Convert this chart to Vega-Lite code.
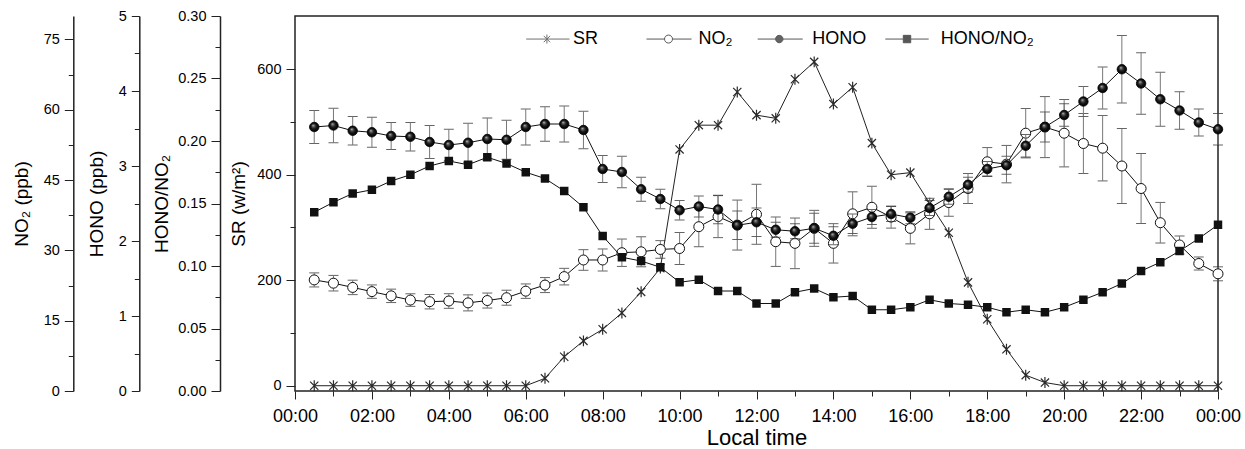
{
  "$schema": "https://vega.github.io/schema/vega-lite/v6.json",
  "width": 923,
  "height": 375,
  "autosize": {"type": "none"},
  "padding": {"left": 295, "top": 16, "right": 27, "bottom": 58},
  "background": "white",
  "config": {
    "font": "Liberation Sans",
    "view": {"stroke": "#222", "strokeWidth": 1.5},
    "axis": {
      "labelFont": "Liberation Sans", "titleFont": "Liberation Sans",
      "labelColor": "#000", "titleColor": "#000",
      "tickColor": "#222", "domainColor": "#222", "domainWidth": 1.5, "tickWidth": 1,
      "grid": false, "labelFontSize": 14.5, "titleFontSize": 19, "titleFontWeight": "normal",
      "labelFlush": false, "labelOverlap": false, "labelPadding": 5
    },
    "legend": {"labelFont": "Liberation Sans"}
  },
  "data": {"values": [
    {"t": 0.5, "SR": 0, "NO2": 23.7, "NO2e": 1.5, "HONO": 3.52, "HONOe": 0.22, "R": 0.143},
    {"t": 1, "SR": 0, "NO2": 23.0, "NO2e": 1.66, "HONO": 3.54, "HONOe": 0.23, "R": 0.151},
    {"t": 1.5, "SR": 0, "NO2": 22.1, "NO2e": 1.54, "HONO": 3.47, "HONOe": 0.19, "R": 0.158},
    {"t": 2, "SR": 0, "NO2": 21.2, "NO2e": 1.43, "HONO": 3.45, "HONOe": 0.20, "R": 0.161},
    {"t": 2.5, "SR": 0, "NO2": 20.3, "NO2e": 1.43, "HONO": 3.40, "HONOe": 0.18, "R": 0.168},
    {"t": 3, "SR": 0, "NO2": 19.4, "NO2e": 1.34, "HONO": 3.39, "HONOe": 0.19, "R": 0.173},
    {"t": 3.5, "SR": 0, "NO2": 19.05, "NO2e": 1.54, "HONO": 3.32, "HONOe": 0.22, "R": 0.180},
    {"t": 4, "SR": 0, "NO2": 19.2, "NO2e": 1.56, "HONO": 3.28, "HONOe": 0.21, "R": 0.184},
    {"t": 4.5, "SR": 0, "NO2": 18.8, "NO2e": 1.71, "HONO": 3.31, "HONOe": 0.26, "R": 0.181},
    {"t": 5, "SR": 0, "NO2": 19.3, "NO2e": 1.6, "HONO": 3.36, "HONOe": 0.28, "R": 0.187},
    {"t": 5.5, "SR": 0, "NO2": 19.9, "NO2e": 1.6, "HONO": 3.35, "HONOe": 0.26, "R": 0.182},
    {"t": 6, "SR": 0, "NO2": 21.3, "NO2e": 1.54, "HONO": 3.52, "HONOe": 0.24, "R": 0.175},
    {"t": 6.5, "SR": 14, "NO2": 22.6, "NO2e": 1.6, "HONO": 3.56, "HONOe": 0.23, "R": 0.170},
    {"t": 7, "SR": 55, "NO2": 24.4, "NO2e": 1.77, "HONO": 3.56, "HONOe": 0.24, "R": 0.160},
    {"t": 7.5, "SR": 85, "NO2": 27.95, "NO2e": 2.2, "HONO": 3.48, "HONOe": 0.25, "R": 0.147},
    {"t": 8, "SR": 107, "NO2": 27.95, "NO2e": 2.35, "HONO": 2.96, "HONOe": 0.18, "R": 0.124},
    {"t": 8.5, "SR": 138, "NO2": 29.5, "NO2e": 2.92, "HONO": 2.92, "HONOe": 0.21, "R": 0.107},
    {"t": 9, "SR": 178, "NO2": 29.7, "NO2e": 3.2, "HONO": 2.69, "HONOe": 0.16, "R": 0.104},
    {"t": 9.5, "SR": 223, "NO2": 30.2, "NO2e": 1.88, "HONO": 2.56, "HONOe": 0.13, "R": 0.099},
    {"t": 10, "SR": 448, "NO2": 30.4, "NO2e": 3.41, "HONO": 2.41, "HONOe": 0.13, "R": 0.087},
    {"t": 10.5, "SR": 494, "NO2": 35.05, "NO2e": 4.27, "HONO": 2.46, "HONOe": 0.14, "R": 0.089},
    {"t": 11, "SR": 494, "NO2": 37.2, "NO2e": 4.48, "HONO": 2.42, "HONOe": 0.19, "R": 0.080},
    {"t": 11.5, "SR": 557, "NO2": 35.4, "NO2e": 5.33, "HONO": 2.21, "HONOe": 0.19, "R": 0.080},
    {"t": 12, "SR": 513, "NO2": 37.7, "NO2e": 6.4, "HONO": 2.25, "HONOe": 0.19, "R": 0.070},
    {"t": 12.5, "SR": 507, "NO2": 31.85, "NO2e": 5.27, "HONO": 2.15, "HONOe": 0.10, "R": 0.070},
    {"t": 13, "SR": 581, "NO2": 31.5, "NO2e": 5.4, "HONO": 2.13, "HONOe": 0.10, "R": 0.079},
    {"t": 13.5, "SR": 614, "NO2": 34.7, "NO2e": 3.84, "HONO": 2.17, "HONOe": 0.20, "R": 0.082},
    {"t": 14, "SR": 534, "NO2": 31.5, "NO2e": 4.2, "HONO": 2.07, "HONOe": 0.12, "R": 0.075},
    {"t": 14.5, "SR": 566, "NO2": 37.8, "NO2e": 4.69, "HONO": 2.23, "HONOe": 0.13, "R": 0.076},
    {"t": 15, "SR": 460, "NO2": 39.2, "NO2e": 4.48, "HONO": 2.32, "HONOe": 0.10, "R": 0.065},
    {"t": 15.5, "SR": 400, "NO2": 37.1, "NO2e": 2.35, "HONO": 2.36, "HONOe": 0.10, "R": 0.065},
    {"t": 16, "SR": 404, "NO2": 34.7, "NO2e": 3.31, "HONO": 2.31, "HONOe": 0.08, "R": 0.067},
    {"t": 16.5, "SR": 346, "NO2": 37.8, "NO2e": 3.31, "HONO": 2.44, "HONOe": 0.10, "R": 0.073},
    {"t": 17, "SR": 290, "NO2": 40.2, "NO2e": 2.92, "HONO": 2.59, "HONOe": 0.10, "R": 0.070},
    {"t": 17.5, "SR": 196, "NO2": 43.2, "NO2e": 3.2, "HONO": 2.75, "HONOe": 0.10, "R": 0.069},
    {"t": 18, "SR": 126, "NO2": 48.9, "NO2e": 3.03, "HONO": 2.96, "HONOe": 0.10, "R": 0.067},
    {"t": 18.5, "SR": 69, "NO2": 48.4, "NO2e": 3.99, "HONO": 3.01, "HONOe": 0.12, "R": 0.063},
    {"t": 19, "SR": 20, "NO2": 55.0, "NO2e": 5.27, "HONO": 3.27, "HONOe": 0.15, "R": 0.065},
    {"t": 19.5, "SR": 6, "NO2": 56.3, "NO2e": 6.51, "HONO": 3.52, "HONOe": 0.20, "R": 0.063},
    {"t": 20, "SR": 0, "NO2": 55.0, "NO2e": 7.19, "HONO": 3.68, "HONOe": 0.15, "R": 0.067},
    {"t": 20.5, "SR": 0, "NO2": 52.8, "NO2e": 6.4, "HONO": 3.86, "HONOe": 0.20, "R": 0.073},
    {"t": 21, "SR": 0, "NO2": 51.8, "NO2e": 6.98, "HONO": 4.04, "HONOe": 0.28, "R": 0.079},
    {"t": 21.5, "SR": 0, "NO2": 48.0, "NO2e": 8.0, "HONO": 4.29, "HONOe": 0.45, "R": 0.086},
    {"t": 22, "SR": 0, "NO2": 43.2, "NO2e": 7.47, "HONO": 4.10, "HONOe": 0.41, "R": 0.096},
    {"t": 22.5, "SR": 0, "NO2": 35.9, "NO2e": 4.33, "HONO": 3.89, "HONOe": 0.36, "R": 0.103},
    {"t": 23, "SR": 0, "NO2": 31.15, "NO2e": 1.92, "HONO": 3.74, "HONOe": 0.25, "R": 0.112},
    {"t": 23.5, "SR": 0, "NO2": 27.2, "NO2e": 1.39, "HONO": 3.58, "HONOe": 0.18, "R": 0.122},
    {"t": 24, "SR": 0, "NO2": 25.0, "NO2e": 1.49, "HONO": 3.49, "HONOe": 0.21, "R": 0.133}
  ]},
  "encoding": {
    "x": {
      "field": "t", "type": "quantitative",
      "scale": {"domain": [0, 24], "nice": false, "zero": false},
      "axis": {
        "values": [0,1,2,3,4,5,6,7,8,9,10,11,12,13,14,15,16,17,18,19,20,21,22,23,24],
        "labelExpr": "datum.value % 2 === 0 ? (((datum.value % 24) < 10) ? '0' : '') + (datum.value % 24) + ':00' : ''",
        "tickSize": {"condition": {"test": "datum.value % 2 === 0", "value": 8}, "value": 5},
        "labelFontSize": 18, "labelPadding": 8,
        "title": "Local time", "titleFontSize": 22, "titleY": 53, "titleBaseline": "alphabetic",
        "domain": false
      }
    }
  },
  "layer": [
    {
      "encoding": {"y": {"field": "SR", "type": "quantitative",
        "scale": {"domain": [-10, 701], "nice": false, "zero": false},
        "axis": {"orient": "left", "offset": 0, "domain": false,
          "values": [0,100,200,300,400,500,600],
          "labelExpr": "datum.value % 200 === 0 ? datum.label : ''",
          "tickSize": {"condition": {"test": "datum.value % 200 === 0", "value": 9}, "value": 5},
          "title": "SR (w/m²)", "titleX": -57, "titleBaseline": "middle", "titleAngle": 270}}},
      "layer": [
        {"mark": {"type": "line", "color": "#222", "strokeWidth": 1}},
        {"mark": {"type": "point", "shape": "M0,-1V1M-0.75,-0.75L0.75,0.75M-0.75,0.75L0.75,-0.75", "filled": false, "stroke": "#2a2a2a", "strokeWidth": 1.2, "size": 120, "opacity": 1}}
      ]
    },
    {
      "encoding": {"y": {"field": "NO2", "type": "quantitative",
        "scale": {"domain": [0, 80], "nice": false, "zero": false},
        "axis": {"orient": "left", "offset": 221.7,
          "values": [0,7.5,15,22.5,30,37.5,45,52.5,60,67.5,75],
          "labelExpr": "datum.value % 15 === 0 ? format(datum.value, 'd') : ''",
          "tickSize": {"condition": {"test": "datum.value % 15 === 0", "value": 9}, "value": 5},
          "title": "NO₂ (ppb)", "titleX": -51.6, "titleBaseline": "middle", "titleAngle": 270}}},
      "layer": [
        {"mark": {"type": "errorbar", "ticks": {"size": 10, "color": "#222"}, "rule": {"color": "#777"}, "thickness": 1}, "encoding": {"yError": {"field": "NO2e"}}},
        {"mark": {"type": "line", "color": "#111", "strokeWidth": 1}},
        {"mark": {"type": "point", "shape": "circle", "filled": true, "fill": "white", "stroke": "#111", "strokeWidth": 1, "size": 100, "opacity": 1}}
      ]
    },
    {
      "encoding": {"y": {"field": "HONO", "type": "quantitative",
        "scale": {"domain": [0, 5], "nice": false, "zero": false},
        "axis": {"orient": "left", "offset": 155.7,
          "values": [0,0.5,1,1.5,2,2.5,3,3.5,4,4.5,5],
          "labelExpr": "datum.value % 1 === 0 ? format(datum.value, 'd') : ''",
          "tickSize": {"condition": {"test": "datum.value % 1 === 0", "value": 8}, "value": 5},
          "title": "HONO (ppb)", "titleX": -42.6, "titleBaseline": "middle", "titleAngle": 270}}},
      "layer": [
        {"mark": {"type": "errorbar", "ticks": {"size": 10, "color": "#222"}, "rule": {"color": "#777"}, "thickness": 1}, "encoding": {"yError": {"field": "HONOe"}}},
        {"mark": {"type": "line", "color": "#111", "strokeWidth": 1}},
        {"mark": {"type": "point", "shape": "circle", "filled": true,
          "fill": {"gradient": "radial", "x1": 0.38, "y1": 0.32, "r1": 0, "x2": 0.5, "y2": 0.5, "r2": 0.5,
            "stops": [{"offset": 0, "color": "#d8d8d8"}, {"offset": 0.22, "color": "#666"}, {"offset": 0.55, "color": "#1a1a1a"}, {"offset": 1, "color": "#000"}]},
          "stroke": "#000", "strokeWidth": 0.8, "size": 90, "opacity": 1}}
      ]
    },
    {
      "encoding": {"y": {"field": "R", "type": "quantitative",
        "scale": {"domain": [0, 0.3], "nice": false, "zero": false},
        "axis": {"orient": "left", "offset": 75,
          "values": [0,0.025,0.05,0.075,0.1,0.125,0.15,0.175,0.2,0.225,0.25,0.275,0.3],
          "labelExpr": "abs(datum.value*20 - round(datum.value*20)) < 0.000001 ? format(datum.value, '.2f') : ''",
          "tickSize": {"condition": {"test": "abs(datum.value*20 - round(datum.value*20)) < 0.000001", "value": 9}, "value": 5},
          "title": "HONO/NO₂", "titleX": -58.3, "titleBaseline": "middle", "titleAngle": 270}}},
      "layer": [
        {"mark": {"type": "line", "color": "#111", "strokeWidth": 1}},
        {"mark": {"type": "point", "shape": "square", "filled": true, "color": "#111", "size": 72, "opacity": 1}}
      ]
    },
    {
      "data": {"values": []},
      "mark": {"type": "point", "filled": true, "strokeWidth": 1},
      "encoding": {
        "shape": {"field": "series", "type": "nominal",
          "scale": {"domain": ["SR", "NO₂", "HONO", "HONO/NO₂"],
            "range": [
              "M-0.641,0H0.963M0.126,-0.167V0.167M0.008,-0.118L0.244,0.118M0.008,0.118L0.244,-0.118",
              "M-1.88,0L-1.88,0M-0.837,0H-0.17M0.126,0H0.83M0.126,0A0.148,0.148 0 1,1 -0.17,0A0.148,0.148 0 1,1 0.126,0Z",
              "M-1.163,0L-1.163,0M-0.926,0H-0.263M0.011,0H0.741M0.011,0A0.137,0.137 0 1,1 -0.263,0A0.137,0.137 0 1,1 0.011,0Z",
              "M-0.963,0H-0.296M-0.022,0H0.644M-0.296,-0.137H-0.022V0.137H-0.296Z"
            ]},
          "legend": {"orient": "none", "legendX": 221, "legendY": -4.7, "direction": "horizontal", "title": null,
            "symbolSize": 2916, "symbolStrokeWidth": 1, "symbolFillColor": "black", "symbolStrokeColor": "black",
            "labelFontSize": 18, "labelFont": "Liberation Sans", "labelColor": "black", "labelOffset": 2,
            "columnPadding": 16.6, "padding": 0, "labelLimit": 0}},
        "fill": {"field": "series", "type": "nominal",
          "scale": {"domain": ["SR", "NO₂", "HONO", "HONO/NO₂"], "range": ["#333", "white", "#222", "#111"]},
          "legend": {"orient": "none", "legendX": 221, "legendY": -4.7, "direction": "horizontal", "title": null,
            "symbolSize": 2916, "symbolStrokeWidth": 1, "symbolFillColor": "black", "symbolStrokeColor": "black",
            "labelFontSize": 18, "labelFont": "Liberation Sans", "labelColor": "black", "labelOffset": 2,
            "columnPadding": 16.6, "padding": 0, "labelLimit": 0}},
        "stroke": {"field": "series", "type": "nominal",
          "scale": {"domain": ["SR", "NO₂", "HONO", "HONO/NO₂"], "range": ["#333", "#111", "#111", "#111"]},
          "legend": {"orient": "none", "legendX": 221, "legendY": -4.7, "direction": "horizontal", "title": null,
            "symbolSize": 2916, "symbolStrokeWidth": 1, "symbolFillColor": "black", "symbolStrokeColor": "black",
            "labelFontSize": 18, "labelFont": "Liberation Sans", "labelColor": "black", "labelOffset": 2,
            "columnPadding": 16.6, "padding": 0, "labelLimit": 0}}
      }
    }
  ],
  "resolve": {"scale": {"y": "independent"}}
}
